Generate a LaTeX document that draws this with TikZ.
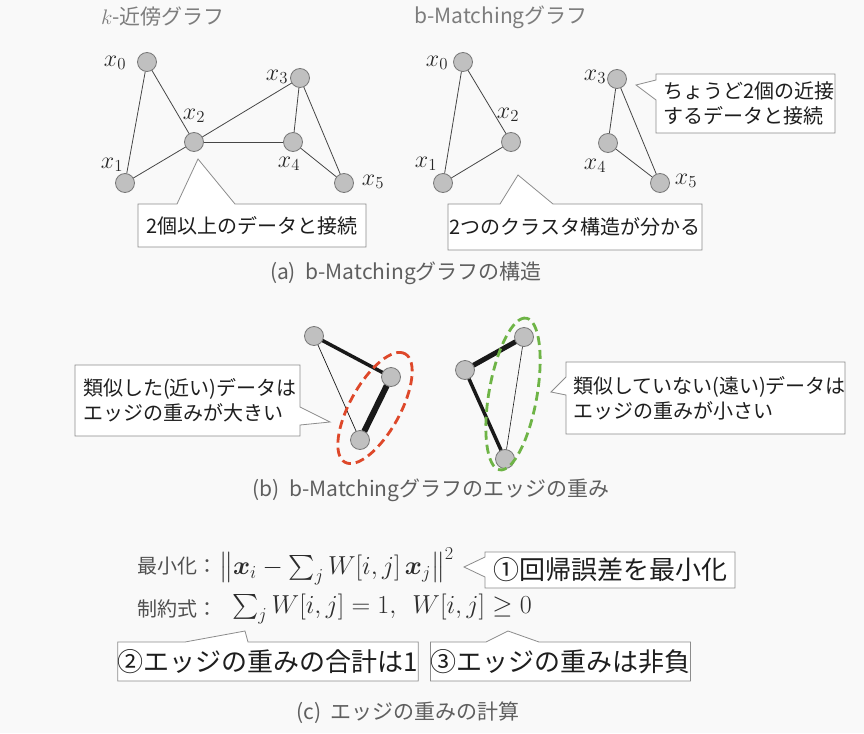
\documentclass[tikz,border=0pt]{standalone}
\usepackage{fix-cm}
\usepackage{amsmath}
\usepackage[no-math]{fontspec}
\setmainfont{Noto Sans CJK JP}
\usetikzlibrary{backgrounds}
\definecolor{bgc}{RGB}{249,249,249}
\definecolor{nodefill}{RGB}{192,192,192}
\definecolor{nodeline}{RGB}{120,120,120}
\definecolor{edgec}{RGB}{70,70,70}
\definecolor{heavyc}{RGB}{25,25,25}
\definecolor{labc}{RGB}{40,40,40}
\definecolor{titlec}{RGB}{125,125,125}
\definecolor{capc}{RGB}{95,95,95}
\definecolor{ctextc}{RGB}{30,30,30}
\definecolor{cborder}{RGB}{140,140,140}
\definecolor{eqlabc}{RGB}{80,80,80}
\definecolor{eqc}{RGB}{45,45,45}
\definecolor{redd}{RGB}{222,72,42}
\definecolor{greend}{RGB}{110,180,70}
\begin{document}
\begin{tikzpicture}[x=1pt,y=1pt,
  gnode/.style={circle, draw=nodeline, fill=nodefill, line width=0.8pt, minimum size=19pt, inner sep=0pt, outer sep=0pt},
  gedge/.style={draw=edgec, line width=0.8pt},
  heavy/.style={draw=heavyc, line width=#1},
  xlab/.style={text=labc, font=\fontsize{24}{24}\selectfont, inner sep=0pt},
  titletext/.style={text=titlec, font=\fontsize{21}{24}\selectfont, inner sep=0pt, anchor=west},
  captext/.style={text=capc, font=\fontsize{21}{24}\selectfont, inner sep=0pt},
  cbox/.style={rectangle, inner sep=0pt, outer sep=0pt, text=ctextc, font=\fontsize{20}{25}\selectfont},
  bigbox/.style={rectangle, inner sep=0pt, outer sep=0pt, text=ctextc, font=\fontsize{26}{30}\selectfont},
  callout/.style={draw=cborder, fill=white, line width=0.8pt, line join=miter},
  eqlab/.style={text=eqlabc, font=\fontsize{20}{22}\selectfont, inner sep=0pt, anchor=west},
  eqtext/.style={text=eqc, font=\fontsize{26}{30}\selectfont, inner sep=0pt, anchor=west},
  reddash/.style={draw=redd, line width=2.8pt, dash pattern=on 9pt off 5pt},
  greendash/.style={draw=greend, line width=2.8pt, dash pattern=on 9pt off 5pt}
]
\useasboundingbox (0,0) rectangle (864,-733);

% titles
\node[titletext] (t1) at (101,-17) {$k$-近傍グラフ};
\node[titletext] (t2) at (414,-17) {b-Matchingグラフ};

% left graph (k-NN)
\node[gnode] (L0) at (147,-62) {};
\node[gnode] (L1) at (125,-183) {};
\node[gnode] (L2) at (194,-142) {};
\node[gnode] (L3) at (300,-78) {};
\node[gnode] (L4) at (293,-142) {};
\node[gnode] (L5) at (344,-183) {};
\node[xlab] (lx0) at (115,-63) {$x_0$};
\node[xlab] (lx1) at (112,-165) {$x_1$};
\node[xlab] (lx2) at (194,-116) {$x_2$};
\node[xlab] (lx3) at (277,-77) {$x_3$};
\node[xlab] (lx4) at (289,-164) {$x_4$};
\node[xlab] (lx5) at (373,-182) {$x_5$};

% right graph (b-matching)
\node[gnode] (R0) at (463,-62) {};
\node[gnode] (R1) at (443,-183) {};
\node[gnode] (R2) at (511,-142) {};
\node[gnode] (R3) at (617,-79) {};
\node[gnode] (R4) at (608,-143) {};
\node[gnode] (R5) at (660,-183) {};
\node[xlab] (rx0) at (437,-63) {$x_0$};
\node[xlab] (rx1) at (426,-164) {$x_1$};
\node[xlab] (rx2) at (508,-115) {$x_2$};
\node[xlab] (rx3) at (595,-77) {$x_3$};
\node[xlab] (rx4) at (595,-166) {$x_4$};
\node[xlab] (rx5) at (686,-181) {$x_5$};

% callouts (a)
\node[cbox, minimum width=228, minimum height=43] (cA) at (252,-225.5) {2個以上のデータと接続};
\coordinate (cA1) at (177,-204); \coordinate (cAt) at (198,-159); \coordinate (cA2) at (235,-204);
\node[cbox, minimum width=254, minimum height=46] (cB) at (575,-227) {2つのクラスタ構造が分かる};
\coordinate (cB1) at (500,-204); \coordinate (cBt) at (518,-175); \coordinate (cB2) at (553,-204);
\node[cbox, minimum width=179, minimum height=59, text width=165, align=left] (cC) at (745.5,-103.5) {ちょうど2個の近接\\するデータと接続};
\coordinate (cC1) at (656,-80); \coordinate (cCt) at (636,-85); \coordinate (cC2) at (656,-100);

\node[captext] (capa) at (406,-273) {(a)\ \ b-Matchingグラフの構造};

% (b) weighted graphs
\node[gnode] (M1) at (314,-336) {};
\node[gnode] (M2) at (391,-377) {};
\node[gnode] (M3) at (360,-440) {};
\node[gnode] (N1) at (524,-337) {};
\node[gnode] (N2) at (465,-370) {};
\node[gnode] (N3) at (505,-459) {};
\draw[reddash, rotate around={61:(375,-408)}] (375,-408) ellipse [x radius=62, y radius=25];
\draw[greendash, rotate around={80:(513,-394)}] (513,-394) ellipse [x radius=77, y radius=24];

\node[cbox, minimum width=225, minimum height=71, text width=209, align=left] (cD) at (187.5,-400.5) {類似した(近い)データは\\エッジの重みが大きい};
\coordinate (cD1) at (300,-407); \coordinate (cDt) at (330,-422); \coordinate (cD2) at (300,-425);
\node[cbox, minimum width=279, minimum height=72, text width=265, align=left] (cE) at (705.5,-398) {類似していない(遠い)データは\\エッジの重みが小さい};
\coordinate (cE1) at (566,-377); \coordinate (cEt) at (551,-392); \coordinate (cE2) at (566,-395);

\node[captext] (capb) at (431,-490) {(b)\ \ b-Matchingグラフのエッジの重み};

% (c) equations
\node[eqlab] (e1l) at (137,-566) {最小化：};
\node[eqtext] (e1) at (219,-566) {$\big\lVert \boldsymbol{x}_i - \sum\nolimits_j W[i,j]\,\boldsymbol{x}_j \big\rVert^2$};
\node[eqlab] (e2l) at (137,-609) {制約式：};
\node[eqtext] (e2) at (232,-609) {$\sum\nolimits_j W[i,j] = 1,\ \ W[i,j] \geq 0$};

\node[bigbox, minimum width=250, minimum height=36] (c1) at (610,-570) {①回帰誤差を最小化};
\coordinate (c11) at (485,-557); \coordinate (c1t) at (464,-567); \coordinate (c12) at (485,-577);
\node[bigbox, minimum width=282, minimum height=39] (c2) at (268,-661.5) {②エッジの重みの合計は1};
\coordinate (c21) at (185,-642); \coordinate (c2t) at (245,-631); \coordinate (c22) at (248,-642);
\node[bigbox, minimum width=249, minimum height=39] (c3) at (560.5,-661.5) {③エッジの重みは非負};
\coordinate (c31) at (486,-642); \coordinate (c3t) at (508,-631); \coordinate (c32) at (539,-642);

\node[captext] (capc) at (408,-713) {(c)\ \ エッジの重みの計算};

\begin{scope}[on background layer]
  \fill[bgc] (0,0) rectangle (864,-733);
  % k-NN edges
  \draw[gedge] (L0) -- (L1);
  \draw[gedge] (L0) -- (L2);
  \draw[gedge] (L1) -- (L2);
  \draw[gedge] (L2) -- (L3);
  \draw[gedge] (L2) -- (L4);
  \draw[gedge] (L3) -- (L4);
  \draw[gedge] (L3) -- (L5);
  \draw[gedge] (L4) -- (L5);
  % b-matching edges
  \draw[gedge] (R0) -- (R1);
  \draw[gedge] (R0) -- (R2);
  \draw[gedge] (R1) -- (R2);
  \draw[gedge] (R3) -- (R4);
  \draw[gedge] (R3) -- (R5);
  \draw[gedge] (R4) -- (R5);
  % weighted edges
  \draw[heavy=3.5pt] (M1) -- (M2);
  \draw[heavy=6pt] (M2) -- (M3);
  \draw[heavy=0.7pt] (M1) -- (M3);
  \draw[heavy=5pt] (N1) -- (N2);
  \draw[heavy=3.5pt] (N2) -- (N3);
  \draw[heavy=0.6pt] (N1) -- (N3);
  % callout outlines
  \draw[callout] (cA.north west) -- (cA1) -- (cAt) -- (cA2) -- (cA.north east) -- (cA.south east) -- (cA.south west) -- cycle;
  \draw[callout] (cB.north west) -- (cB1) -- (cBt) -- (cB2) -- (cB.north east) -- (cB.south east) -- (cB.south west) -- cycle;
  \draw[callout] (cC.north west) -- (cC.north east) -- (cC.south east) -- (cC.south west) -- (cC2) -- (cCt) -- (cC1) -- cycle;
  \draw[callout] (cD.north west) -- (cD.north east) -- (cD1) -- (cDt) -- (cD2) -- (cD.south east) -- (cD.south west) -- cycle;
  \draw[callout] (cE.north west) -- (cE.north east) -- (cE.south east) -- (cE.south west) -- (cE2) -- (cEt) -- (cE1) -- cycle;
  \draw[callout] (c1.north west) -- (c1.north east) -- (c1.south east) -- (c1.south west) -- (c12) -- (c1t) -- (c11) -- cycle;
  \draw[callout] (c2.north west) -- (c21) -- (c2t) -- (c22) -- (c2.north east) -- (c2.south east) -- (c2.south west) -- cycle;
  \draw[callout] (c3.north west) -- (c31) -- (c3t) -- (c32) -- (c3.north east) -- (c3.south east) -- (c3.south west) -- cycle;
\end{scope}
\end{tikzpicture}
\end{document}
